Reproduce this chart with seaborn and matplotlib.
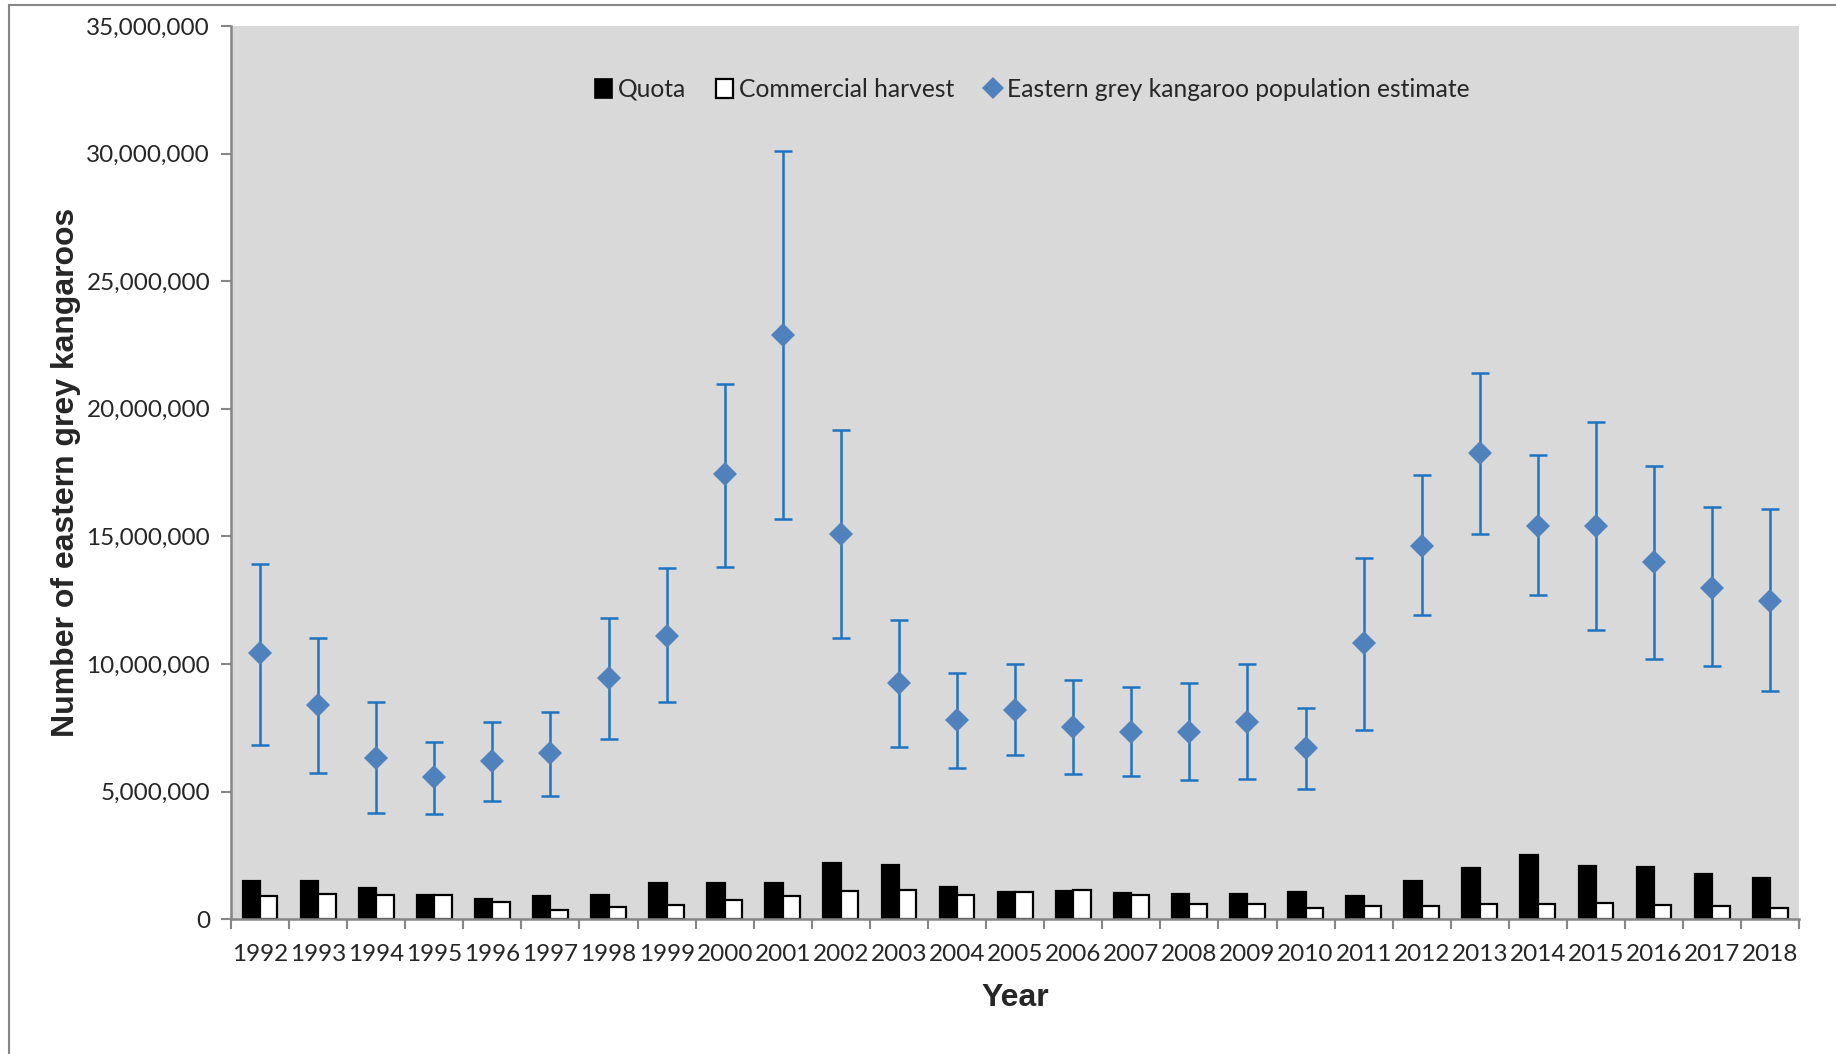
import numpy as np
import pandas as pd
import matplotlib
matplotlib.use("Agg")
import matplotlib.pyplot as plt
from matplotlib.patches import Patch, Rectangle
from matplotlib.lines import Line2D
from matplotlib.ticker import FuncFormatter, FixedLocator, NullFormatter
import seaborn as sns

years = list(range(1992, 2019))

quota = [1.48e6, 1.48e6, 1.23e6, 0.93e6, 0.80e6, 0.89e6, 0.95e6, 1.40e6, 1.40e6,
         1.40e6, 2.18e6, 2.12e6, 1.27e6, 1.07e6, 1.12e6, 1.03e6, 0.99e6, 0.99e6,
         1.06e6, 0.90e6, 1.50e6, 2.00e6, 2.52e6, 2.09e6, 2.03e6, 1.78e6, 1.61e6]

harvest = [0.92e6, 0.98e6, 0.95e6, 0.94e6, 0.67e6, 0.37e6, 0.47e6, 0.56e6, 0.73e6,
           0.90e6, 1.11e6, 1.15e6, 0.95e6, 1.08e6, 1.14e6, 0.95e6, 0.61e6, 0.61e6,
           0.42e6, 0.52e6, 0.50e6, 0.59e6, 0.59e6, 0.63e6, 0.54e6, 0.50e6, 0.43e6]

population = [10.41e6, 8.39e6, 6.33e6, 5.55e6, 6.19e6, 6.51e6, 9.45e6, 11.10e6, 17.43e6,
              22.89e6, 15.09e6, 9.27e6, 7.80e6, 8.21e6, 7.52e6, 7.34e6, 7.34e6, 7.71e6,
              6.70e6, 10.83e6, 14.63e6, 18.26e6, 15.41e6, 15.41e6, 13.99e6, 12.98e6, 12.48e6]

pop_upper = [13.90e6, 11.00e6, 8.49e6, 6.93e6, 7.71e6, 8.12e6, 11.79e6, 13.76e6, 20.96e6,
             30.09e6, 19.17e6, 11.74e6, 9.63e6, 10.00e6, 9.36e6, 9.08e6, 9.27e6, 10.00e6,
             8.26e6, 14.17e6, 17.39e6, 21.42e6, 18.17e6, 19.50e6, 17.75e6, 16.15e6, 16.06e6]

pop_lower = [6.83e6, 5.73e6, 4.17e6, 4.13e6, 4.63e6, 4.82e6, 7.06e6, 8.49e6, 13.81e6,
             15.69e6, 11.01e6, 6.74e6, 5.92e6, 6.42e6, 5.69e6, 5.60e6, 5.46e6, 5.50e6,
             5.09e6, 7.43e6, 11.93e6, 15.09e6, 12.71e6, 11.33e6, 10.18e6, 9.91e6, 8.94e6]

series_names = ["Quota", "Commercial harvest"]
pop_name = "Eastern grey kangaroo population estimate"

sns.set_theme(style="white")
plt.rcParams["font.family"] = ["Lato", "DejaVu Sans"]

AXIS_GREY = "#868686"
PLOT_BG = "#D9D9D9"
DIAMOND = "#4F81BD"
ERR = "#1F74C2"

fig = plt.figure(figsize=(18.36, 10.54), dpi=100)
ax = fig.add_axes([0.1258, 0.128, 0.8542, 0.8473])
ax.set_facecolor(PLOT_BG)

# outer chart frame
fig.add_artist(Rectangle((9 / 1836, -0.05), 1.1, 1.05 - 5 / 1054, transform=fig.transFigure,
                         fill=False, edgecolor=AXIS_GREY, linewidth=1.5, zorder=0))

year_labels = [str(y) for y in years]
bars = pd.DataFrame({
    "Year": year_labels * 2,
    "Count": quota + harvest,
    "Series": [series_names[0]] * len(years) + [series_names[1]] * len(years),
})

sns.barplot(data=bars, x="Year", y="Count", hue="Series", order=year_labels,
            hue_order=series_names, palette=["black", "white"], width=0.6,
            edgecolor="black", linewidth=1.6, saturation=1, legend=False, ax=ax, zorder=2)

xpos = np.arange(len(years))
pop = np.array(population)
yerr = np.vstack([pop - np.array(pop_lower), np.array(pop_upper) - pop])
ax.errorbar(xpos, pop, yerr=yerr, fmt="none", ecolor=ERR, elinewidth=1.8,
            capsize=6.5, capthick=1.8, zorder=3)
ax.plot(xpos, pop, linestyle="none", marker="D", markersize=12.5,
        color=DIAMOND, markeredgewidth=0, zorder=4)

ax.set_xlim(-0.5, len(years) - 0.5)
ax.set_ylim(0, 35e6)

ax.yaxis.set_major_locator(FixedLocator(np.arange(0, 35e6 + 1, 5e6)))
ax.yaxis.set_major_formatter(FuncFormatter(lambda v, p: f"{int(v):,}"))
ax.tick_params(axis="y", which="major", direction="out", length=7, width=1.5,
               color=AXIS_GREY, labelsize=17.5, pad=8, left=True)

ax.set_xticks(xpos)
ax.set_xticklabels(year_labels)
ax.tick_params(axis="x", which="major", length=0, labelsize=17.5, pad=18)
ax.xaxis.set_minor_locator(FixedLocator(np.arange(-0.5, len(years), 1.0)))
ax.xaxis.set_minor_formatter(NullFormatter())
ax.tick_params(axis="x", which="minor", direction="out", length=7, width=1.5,
               color=AXIS_GREY, bottom=True)

for side in ("top", "right"):
    ax.spines[side].set_visible(False)
for side in ("left", "bottom"):
    ax.spines[side].set_color(AXIS_GREY)
    ax.spines[side].set_linewidth(1.8)
ax.grid(False)

title_font = dict(family="Liberation Sans", weight="bold", size=23)
ax.set_ylabel("Number of eastern grey kangaroos", fontdict=title_font, labelpad=4)
ax.set_xlabel("Year", fontdict=title_font, labelpad=13)

handles = [
    Patch(facecolor="black", edgecolor="black", linewidth=1.2),
    Patch(facecolor="white", edgecolor="black", linewidth=1.6),
    Line2D([], [], linestyle="none", marker="D", markersize=11, color=DIAMOND,
           markeredgewidth=0),
]
ax.legend(handles, series_names + [pop_name], loc="center", bbox_to_anchor=(0.511, 0.929),
          ncol=3, frameon=False, fontsize=17.7, handlelength=0.7, handleheight=0.8,
          handletextpad=0.25, columnspacing=1.2)

fig.savefig("out.png", dpi=100)
